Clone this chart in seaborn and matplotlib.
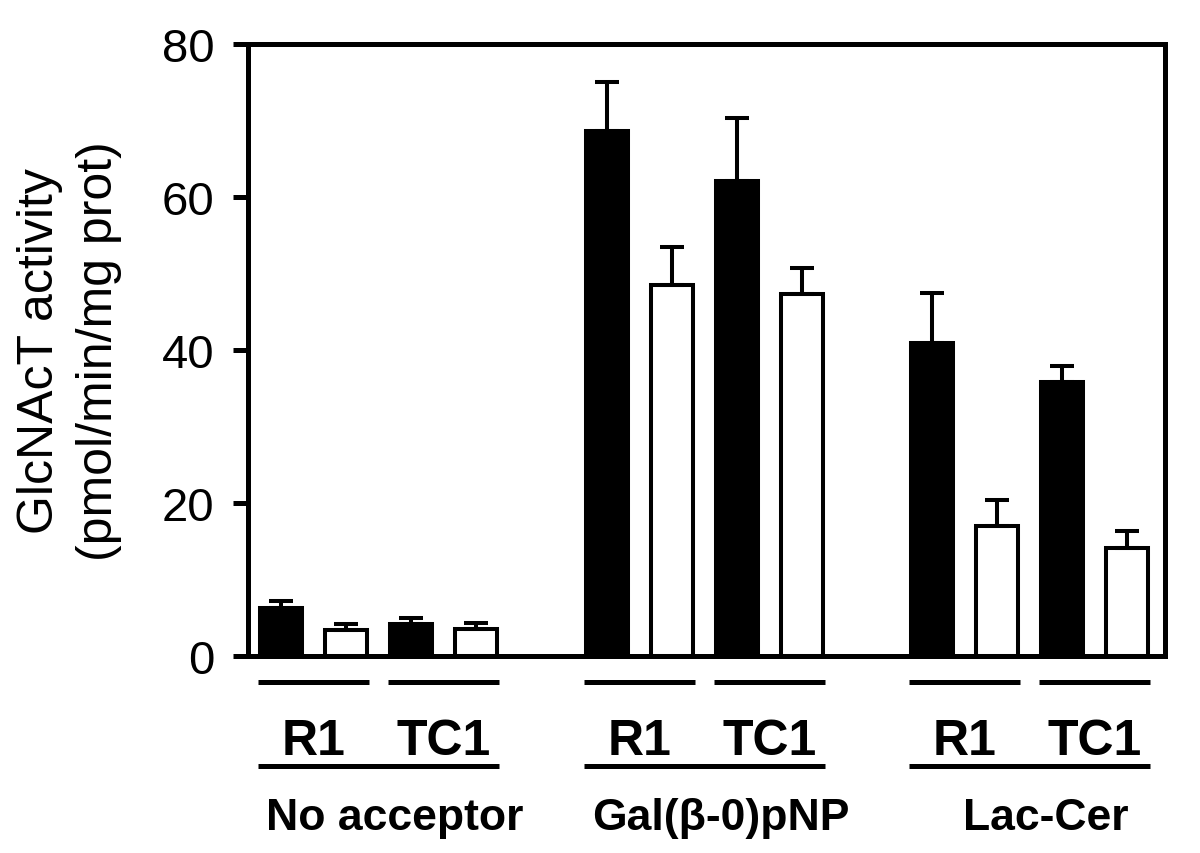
import numpy as np
import pandas as pd
import seaborn as sns
import matplotlib.pyplot as plt

# acceptor groups / cell lines
groups = ["No acceptor", "Gal(β-0)pNP", "Lac-Cer"]
cell_lines = ["R1", "TC1"]

# filled (black) bars and open (white) bars, order: group x cell line
means_filled = [6.3, 4.2, 68.7, 62.1, 41.0, 35.9]
sem_filled = [1.0, 0.8, 6.4, 8.3, 6.5, 2.0]
means_open = [3.5, 3.6, 48.5, 47.3, 17.0, 14.2]
sem_open = [0.75, 0.8, 5.0, 3.5, 3.5, 2.15]

yticks = [0, 20, 40, 60, 80]
ylabel = "GlcNAcT activity\n(pmol/min/mg prot)"

# build the long table + slot order (blank slot between acceptor groups)
rows = []
order = []
i = 0
for gi, g in enumerate(groups):
    if gi > 0:
        order.append(f"gap{gi}")
    for c in cell_lines:
        for cond, m, s in (("filled", means_filled[i], sem_filled[i]),
                           ("open", means_open[i], sem_open[i])):
            slot = f"{g}|{c}|{cond}"
            order.append(slot)
            rows.append({"slot": slot, "group": g, "cell": c,
                         "condition": cond, "value": m, "sem": s})
        i += 1
df = pd.DataFrame(rows)

sns.set_style("ticks")
plt.rcParams['font.family'] = ['Liberation Sans', 'DejaVu Sans']
plt.rcParams['text.color'] = 'black'
plt.rcParams['axes.labelcolor'] = 'black'

fig = plt.figure(figsize=(12, 8.54), dpi=100)
ax = fig.add_axes([0.2063, 0.2301, 0.7642, 0.7172])

sns.barplot(data=df, x="slot", y="value", hue="condition", order=order,
            palette={"filled": "black", "open": "white"}, dodge=False,
            width=0.645, edgecolor="black", linewidth=2.9, errorbar=None,
            legend=False, ax=ax)

# one-sided (upward) error bars
xs = np.array([order.index(s) for s in df["slot"]])
ax.errorbar(xs, df["value"], yerr=[np.zeros(len(df)), df["sem"]], fmt="none",
            ecolor="black", elinewidth=2.9, capsize=8.3, capthick=2.9, zorder=3)

ax.set_xlim(-0.515, len(order) - 1 + 0.57)
ax.set_ylim(0, 80)
ax.set_yticks(yticks)
ax.set_xlabel("")
ax.set_xticks([])
ax.set_ylabel(ylabel, fontsize=36, linespacing=1.35, color="black")
ax.yaxis.set_label_coords(-0.137, 0.5)
for sp in ax.spines.values():
    sp.set_visible(True)
    sp.set_linewidth(3.6)
    sp.set_color("black")
ax.tick_params(axis="y", direction="out", length=11, width=3.6,
               labelsize=34, pad=13, colors="black")

# bracket lines and labels under the axis
tr = ax.get_xaxis_transform()
half = 0.645 / 2 + 0.03
for g in groups:
    for c in cell_lines:
        xa = order.index(f"{g}|{c}|filled")
        xb = order.index(f"{g}|{c}|open")
        ax.plot([xa - half, xb + half], [-0.0424, -0.0424], transform=tr,
                color="black", lw=3.6, solid_capstyle="butt", clip_on=False)
        ax.text((xa + xb) / 2, -0.1584, c, transform=tr, ha="center",
                va="baseline", fontsize=36, fontweight="bold")
    x0 = order.index(f"{g}|{cell_lines[0]}|filled")
    x1 = order.index(f"{g}|{cell_lines[-1]}|open")
    ax.plot([x0 - half, x1 + half], [-0.1788, -0.1788], transform=tr,
            color="black", lw=3.6, solid_capstyle="butt", clip_on=False)
    ax.text((x0 + x1) / 2 + 0.25, -0.2816, g, transform=tr, ha="center",
            va="baseline", fontsize=32, fontweight="bold")

plt.savefig("out.png", dpi=100)
